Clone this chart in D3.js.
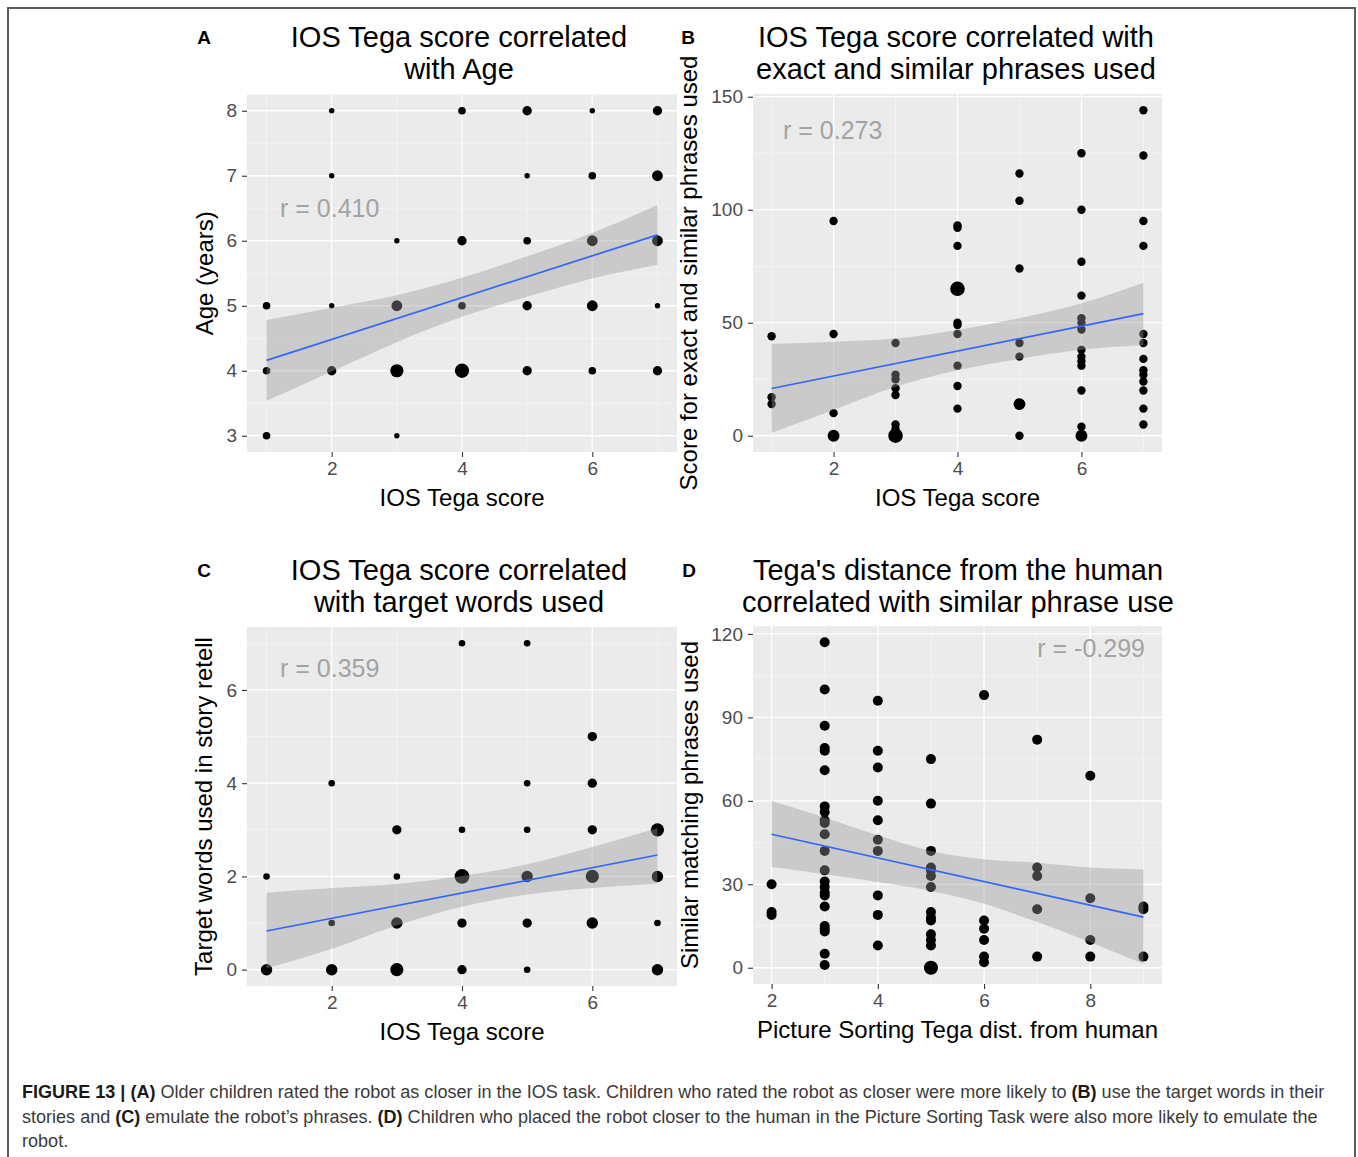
<!DOCTYPE html>
<html>
<head>
<meta charset="utf-8">
<script src="https://cdn.jsdelivr.net/npm/d3@7"></script>
<style>
body { margin: 0; background: #fff; }
svg text { font-family: "Liberation Sans", Arial, Helvetica, sans-serif; }
</style>
</head>
<body>
<div id="fig"></div>
<script>
// ---- panel A : IOS score vs age (n = overlapping children)
const a_ios = [1,1,1, 2,2,2,2, 3,3,3,3, 4,4,4,4, 5,5,5,5,5, 6,6,6,6,6, 7,7,7,7,7];
const a_age = [5,4,3, 8,7,5,4, 6,5,4,3, 8,6,5,4, 8,7,6,5,4, 8,7,6,5,4, 8,7,6,5,4];
const a_n   = [2,2,2, 1,1,1,3, 1,4,6,1, 2,3,2,7, 3,1,2,3,3, 1,2,4,4,2, 3,4,4,1,3];
const a_fitX = [1, 7];
const a_fitY = [4.16, 6.09];
const a_bandX = [1, 2, 3, 4, 5, 6, 7];
const a_bandLo = [3.54, 3.99, 4.44, 4.83, 5.14, 5.42, 5.63];
const a_bandHi = [4.78, 4.97, 5.16, 5.43, 5.76, 6.12, 6.55];

// ---- panel B : IOS score vs exact+similar phrases
const b_ios = [1,1,1, 2,2,2,2, 3,3,3,3,3,3,3,3,
  4,4,4,4,4,4,4,4,4,4, 5,5,5,5,5,5,5,
  6,6,6,6,6,6,6,6,6,6,6,6,6,6, 7,7,7,7,7,7,7,7,7,7,7,7,7];
const b_score = [44,17,14, 95,45,10,0, 41,27,25,21,18,5,3,0,
  93,92,84,65,50,49,45,31,22,12, 116,104,74,41,35,14,0,
  125,100,77,62,52,50,47,38,35,33,31,20,4,0, 144,124,95,84,45,41,34,29,27,24,20,12,5];
const b_n = [1,1,1, 1,1,1,2, 1,1,1,1,1,1,1,3,
  1,1,1,3,1,1,1,1,1,1, 1,1,1,1,1,2,1,
  1,1,1,1,1,1,1,1,1,1,1,1,1,2, 1,1,1,1,1,1,1,1,1,1,1,1,1];
const b_fitX = [1, 7];
const b_fitY = [20.9, 54.0];
const b_bandX = [1, 2, 3, 4, 5, 6, 7];
const b_bandLo = [1.3, 11.4, 21.7, 29.0, 34.0, 38.0, 40.1];
const b_bandHi = [40.6, 41.6, 43.0, 46.8, 52.0, 58.6, 67.7];

// ---- panel C : IOS score vs target words
const c_ios = [1,1, 2,2,2, 3,3,3,3, 4,4,4,4,4, 5,5,5,5,5,5, 6,6,6,6,6, 7,7,7,7];
const c_words = [2,0, 4,1,0, 3,2,1,0, 7,3,2,1,0, 7,4,3,2,1,0, 5,4,3,2,1, 3,2,1,0];
const c_n = [1,3, 1,1,3, 2,1,3,4, 1,1,5,2,2, 1,1,1,3,2,1, 2,2,2,4,3, 4,3,1,3];
const c_fitX = [1, 7];
const c_fitY = [0.83, 2.46];
const c_bandX = [1, 2, 3, 4, 5, 6, 7];
const c_bandLo = [0.03, 0.45, 0.95, 1.35, 1.61, 1.75, 1.85];
const c_bandHi = [1.65, 1.75, 1.84, 2.01, 2.26, 2.63, 3.04];

// ---- panel D : picture sorting distance vs similar phrases
const d_dist = [2,2,2,
  3,3,3,3,3,3,3,3,3,3,3,3,3,3,3,3,3,3,3,3,3,3,3,
  4,4,4,4,4,4,4,4,4,4,
  5,5,5,5,5,5,5,5,5,5,5,5,5,5,
  6,6,6,6,6,6, 7,7,7,7,7, 8,8,8,8, 9,9,9];
const d_phr = [30,20,19,
  117,100,87,79,78,71,58,56,53,52,48,42,35,31,29,27,26,22,15,14,13,5,1,
  96,78,72,60,53,46,42,26,19,8,
  75,59,42,36,35,33,29,20,18,17,12,10,8,0,
  98,17,14,10,4,2, 82,36,33,21,4, 69,25,10,4, 22,21,4];
const d_n = d_phr.map((v, i) => (d_dist[i] === 5 && v === 0) ? 2 : 1);
const d_fitX = [2, 9];
const d_fitY = [48.0, 18.2];
const d_bandX = [2, 3, 4, 5, 6, 7, 8, 9];
const d_bandLo = [36.2, 33.6, 30.8, 27.6, 23.0, 16.4, 9.2, 1.4];
const d_bandHi = [59.9, 54.0, 47.6, 42.0, 39.0, 37.7, 36.0, 35.3];

const svg = d3.select("#fig").append("svg")
    .attr("width", 1358)
    .attr("height", 1157);

svg.append("rect").attr("width", 1358).attr("height", 1157).attr("fill", "#fff");

// frame
svg.append("path")
    .attr("d", "M8,1157V8H1355V1157")
    .attr("fill", "none")
    .attr("stroke", "#5c5c5c")
    .attr("stroke-width", 2);

function drawPanel(p) {
    let x = d3.scaleLinear().domain(p.xDomain).range([p.left, p.right]);
    let y = d3.scaleLinear().domain(p.yDomain).range([p.bottom, p.top]);
    let r = d3.scaleSqrt().domain([0, 1]).range([0, p.k]);

    let g = svg.append("g");

    g.append("rect")
        .attr("x", p.left).attr("y", p.top)
        .attr("width", p.right - p.left).attr("height", p.bottom - p.top)
        .attr("fill", "#ebebeb");

    // minor grid
    g.selectAll(".minx").data(p.xMinor).join("line")
        .attr("x1", d => x(d)).attr("x2", d => x(d))
        .attr("y1", p.top).attr("y2", p.bottom)
        .attr("stroke", "#f7f7f7").attr("stroke-width", 0.7);
    g.selectAll(".miny").data(p.yMinor).join("line")
        .attr("y1", d => y(d)).attr("y2", d => y(d))
        .attr("x1", p.left).attr("x2", p.right)
        .attr("stroke", "#f7f7f7").attr("stroke-width", 0.7);
    // major grid
    g.selectAll(".majx").data(p.xTicks).join("line")
        .attr("x1", d => x(d)).attr("x2", d => x(d))
        .attr("y1", p.top).attr("y2", p.bottom)
        .attr("stroke", "#fff").attr("stroke-width", 1.3);
    g.selectAll(".majy").data(p.yTicks).join("line")
        .attr("y1", d => y(d)).attr("y2", d => y(d))
        .attr("x1", p.left).attr("x2", p.right)
        .attr("stroke", "#fff").attr("stroke-width", 1.3);

    // points
    g.selectAll(".pt").data(p.xs.map((v, i) => ({x: v, y: p.ys[i], n: p.ns[i]})))
        .join("circle")
        .attr("cx", d => x(d.x))
        .attr("cy", d => y(d.y))
        .attr("r", d => r(d.n))
        .attr("fill", "#000");

    // confidence band drawn over points
    let band = p.bandX.map((v, i) => ({x: v, lo: p.bandLo[i], hi: p.bandHi[i]}));
    g.append("path")
        .datum(band)
        .attr("fill", "#999999")
        .attr("fill-opacity", 0.4)
        .attr("d", d3.area()
            .curve(d3.curveMonotoneX)
            .x(d => x(d.x))
            .y0(d => y(d.lo))
            .y1(d => y(d.hi)));

    g.append("path")
        .datum(p.fitX.map((v, i) => [v, p.fitY[i]]))
        .attr("fill", "none")
        .attr("stroke", "#3366ff")
        .attr("stroke-width", 1.7)
        .attr("d", d3.line().x(d => x(d[0])).y(d => y(d[1])));

    // axes
    let ax = g.append("g")
        .attr("transform", "translate(0," + p.bottom + ")")
        .call(d3.axisBottom(x).tickValues(p.xTicks).tickSize(5).tickPadding(5).tickFormat(d3.format("d")));
    let ay = g.append("g")
        .attr("transform", "translate(" + p.left + ",0)")
        .call(d3.axisLeft(y).tickValues(p.yTicks).tickSize(5).tickPadding(5).tickFormat(d3.format("d")));
    [ax, ay].forEach(a => {
        a.select(".domain").remove();
        a.selectAll(".tick line").attr("stroke", "#333").attr("stroke-width", 1.1);
        a.selectAll(".tick text")
            .attr("fill", "#4d4d4d")
            .style("font-size", "19px")
            .style("font-family", "'Liberation Sans', Arial, sans-serif");
    });

    let cx = (p.left + p.right) / 2;
    let cy = (p.top + p.bottom) / 2;

    g.append("text")
        .attr("x", cx).attr("y", p.bottom + 54)
        .attr("text-anchor", "middle")
        .style("font-size", "24px")
        .attr("fill", "#000")
        .text(p.xTitle);

    g.append("text")
        .attr("transform", "translate(" + p.yTitleX + "," + cy + ") rotate(-90)")
        .attr("text-anchor", "middle")
        .style("font-size", "24px")
        .attr("fill", "#000")
        .text(p.yTitle);

    g.selectAll(".title").data(p.title).join("text")
        .attr("x", p.titleX)
        .attr("y", (d, i) => p.titleY + i * 31.5)
        .attr("text-anchor", "middle")
        .style("font-size", "29px")
        .attr("fill", "#000")
        .text(d => d);

    g.append("text")
        .attr("x", p.labelX).attr("y", p.titleY - 3)
        .attr("text-anchor", "middle")
        .style("font-size", "19px")
        .style("font-weight", "bold")
        .attr("fill", "#000")
        .text(p.label);

    g.append("text")
        .attr("x", p.rX).attr("y", p.rY)
        .attr("text-anchor", p.rAnchor)
        .style("font-size", "25px")
        .attr("fill", "#a3a3a3")
        .text(p.rText);
}

drawPanel({
    left: 247, right: 677, top: 94.5, bottom: 452,
    xDomain: [0.7, 7.3], yDomain: [2.75, 8.25],
    xTicks: [2, 4, 6], xMinor: [1, 3, 5, 7],
    yTicks: [3, 4, 5, 6, 7, 8], yMinor: [3.5, 4.5, 5.5, 6.5, 7.5],
    xs: a_ios, ys: a_age, ns: a_n, k: 2.7,
    fitX: a_fitX, fitY: a_fitY, bandX: a_bandX, bandLo: a_bandLo, bandHi: a_bandHi,
    xTitle: "IOS Tega score", yTitle: "Age (years)", yTitleX: 213,
    title: ["IOS Tega score correlated", "with Age"], titleX: 459, titleY: 47,
    label: "A", labelX: 204,
    rText: "r = 0.410", rX: 280, rY: 217, rAnchor: "start"
});

drawPanel({
    left: 753, right: 1162, top: 94, bottom: 452,
    xDomain: [0.7, 7.3], yDomain: [-7.2, 151.2],
    xTicks: [2, 4, 6], xMinor: [1, 3, 5, 7],
    yTicks: [0, 50, 100, 150], yMinor: [25, 75, 125],
    xs: b_ios, ys: b_score, ns: b_n, k: 4.2,
    fitX: b_fitX, fitY: b_fitY, bandX: b_bandX, bandLo: b_bandLo, bandHi: b_bandHi,
    xTitle: "IOS Tega score", yTitle: "Score for exact and similar phrases used", yTitleX: 697,
    title: ["IOS Tega score correlated with", "exact and similar phrases used"], titleX: 956, titleY: 47,
    label: "B", labelX: 688,
    rText: "r = 0.273", rX: 783, rY: 139, rAnchor: "start"
});

drawPanel({
    left: 247, right: 677, top: 627, bottom: 986,
    xDomain: [0.7, 7.3], yDomain: [-0.35, 7.35],
    xTicks: [2, 4, 6], xMinor: [1, 3, 5, 7],
    yTicks: [0, 2, 4, 6], yMinor: [1, 3, 5, 7],
    xs: c_ios, ys: c_words, ns: c_n, k: 3.3,
    fitX: c_fitX, fitY: c_fitY, bandX: c_bandX, bandLo: c_bandLo, bandHi: c_bandHi,
    xTitle: "IOS Tega score", yTitle: "Target words used in story retell", yTitleX: 212,
    title: ["IOS Tega score correlated", "with target words used"], titleX: 459, titleY: 580,
    label: "C", labelX: 204,
    rText: "r = 0.359", rX: 280, rY: 677, rAnchor: "start"
});

drawPanel({
    left: 753, right: 1162, top: 626, bottom: 984,
    xDomain: [1.65, 9.35], yDomain: [-5.85, 122.85],
    xTicks: [2, 4, 6, 8], xMinor: [3, 5, 7, 9],
    yTicks: [0, 30, 60, 90, 120], yMinor: [15, 45, 75, 105],
    xs: d_dist, ys: d_phr, ns: d_n, k: 5,
    fitX: d_fitX, fitY: d_fitY, bandX: d_bandX, bandLo: d_bandLo, bandHi: d_bandHi,
    xTitle: "Picture Sorting Tega dist. from human", yTitle: "Similar matching phrases used", yTitleX: 698,
    title: ["Tega's distance from the human", "correlated with similar phrase use"], titleX: 958, titleY: 580,
    label: "D", labelX: 689,
    rText: "r = -0.299", rX: 1145, rY: 657, rAnchor: "end"
});

// caption
const captionLines = [
    [["FIGURE 13 | ", true], ["(A)", true], [" Older children rated the robot as closer in the IOS task. Children who rated the robot as closer were more likely to ", false], ["(B)", true], [" use the target words in their", false]],
    [["stories and ", false], ["(C)", true], [" emulate the robot\u2019s phrases. ", false], ["(D)", true], [" Children who placed the robot closer to the human in the Picture Sorting Task were also more likely to emulate the", false]],
    [["robot.", false]]
];
const captionWidths = [1304, 1296, null];

let firstScale = 1;
captionLines.forEach(function(line, i) {
    let t = svg.append("text")
        .attr("x", 0).attr("y", 0)
        .style("font-size", "18.5px")
        .attr("fill", "#3a3a3a");
    line.forEach(function(seg) {
        t.append("tspan")
            .style("font-weight", seg[1] ? "bold" : "normal")
            .attr("fill", seg[1] ? "#1a1a1a" : "#3a3a3a")
            .text(seg[0]);
    });
    let len = t.node().getComputedTextLength();
    let sx = captionWidths[i] ? captionWidths[i] / len : firstScale;
    if (i === 0) firstScale = sx;
    t.attr("transform", "translate(22," + (1098 + i * 24.5) + ") scale(" + sx + ",1)");
});
</script>
</body>
</html>
